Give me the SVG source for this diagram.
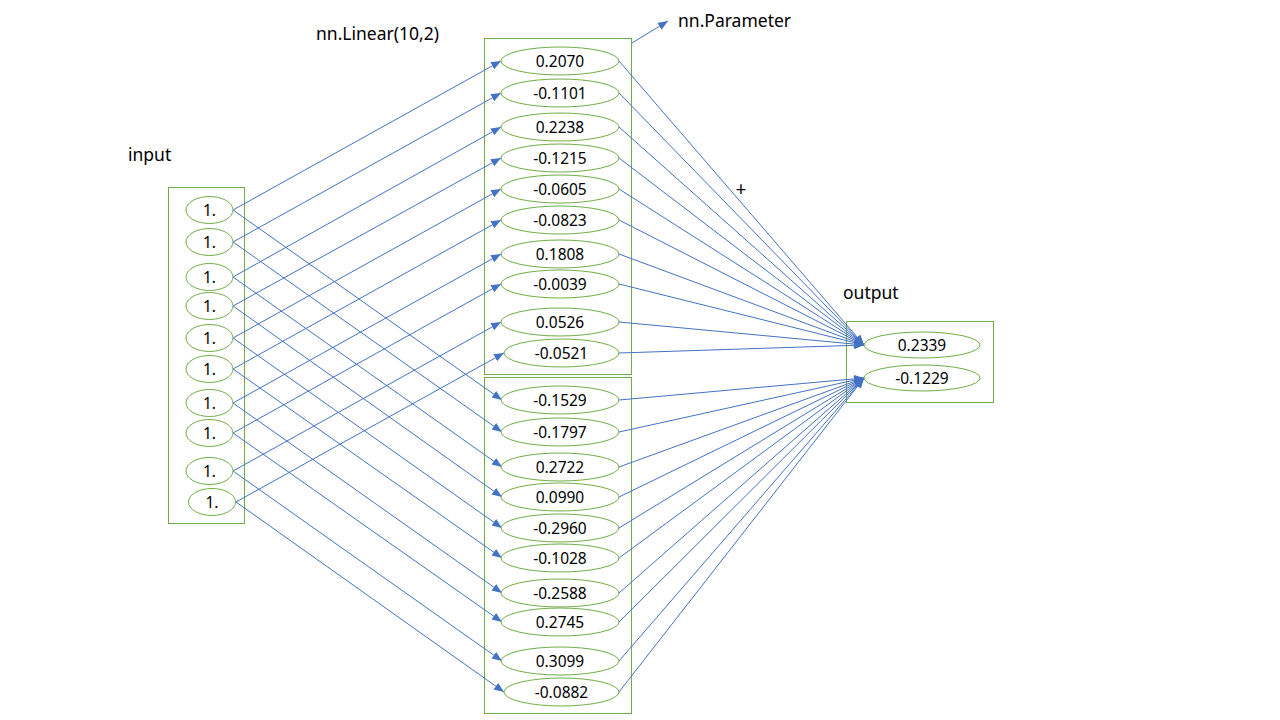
<svg xmlns="http://www.w3.org/2000/svg" width="1280" height="720" viewBox="0 0 1280 720">
<defs>
<marker id="ah" markerUnits="userSpaceOnUse" markerWidth="11" markerHeight="9" refX="10" refY="4" orient="auto">
<path d="M0,0 L10,4 L0,8 z" fill="#4472C4"/>
</marker>
<style>
.box{fill:none;stroke:#70AD47;stroke-width:1}
.el{fill:#fff;stroke:#70AD47;stroke-width:1}
.t{font-family:"Noto Sans","Liberation Sans",sans-serif;font-size:15.5px;fill:#000;text-anchor:middle;dominant-baseline:central}
.lbl{font-family:"Noto Sans","Liberation Sans",sans-serif;font-size:17.5px;fill:#000}
.c line{stroke:#4472C4;stroke-width:1;marker-end:url(#ah)}
</style>
</defs>
<rect width="1280" height="720" fill="#fff"/>

<text class="lbl" x="128" y="161">input</text>
<text class="lbl" x="316" y="40">nn.Linear(10,2)</text>
<text class="lbl" x="678" y="27">nn.Parameter</text>
<text class="lbl" x="843" y="299">output</text>
<text class="lbl" x="741" y="189" style="font-size:19px;text-anchor:middle;dominant-baseline:central">+</text>

<g id="input-box"><rect class="box" x="168.5" y="187.5" width="76" height="336"/></g>
<g id="weight-box-0"><rect class="box" x="484.5" y="38.5" width="147" height="336"/></g>
<g id="weight-box-1"><rect class="box" x="484.5" y="377.5" width="147" height="336"/></g>
<g id="output-box"><rect class="box" x="846.5" y="321.5" width="147" height="81"/></g>

<g class="c" id="connectors">
<line x1="632" y1="43" x2="668" y2="21"/>
<!-- input to weight row 0 -->
<line x1="233" y1="210" x2="501" y2="61"/>
<line x1="233" y1="242" x2="501" y2="93"/>
<line x1="233" y1="277" x2="501" y2="127"/>
<line x1="233" y1="306" x2="501" y2="158"/>
<line x1="233" y1="338" x2="501" y2="189"/>
<line x1="233" y1="369" x2="501" y2="220"/>
<line x1="233" y1="403" x2="501" y2="254"/>
<line x1="233" y1="433" x2="501" y2="284"/>
<line x1="233" y1="471" x2="501" y2="322"/>
<line x1="236" y1="502" x2="504" y2="353"/>
<!-- input to weight row 1 -->
<line x1="233" y1="210" x2="502" y2="400"/>
<line x1="233" y1="242" x2="502" y2="432"/>
<line x1="233" y1="277" x2="502" y2="467"/>
<line x1="233" y1="306" x2="502" y2="497"/>
<line x1="233" y1="338" x2="502" y2="528"/>
<line x1="233" y1="369" x2="502" y2="558"/>
<line x1="233" y1="403" x2="502" y2="593"/>
<line x1="233" y1="433" x2="502" y2="622"/>
<line x1="233" y1="471" x2="502" y2="661"/>
<line x1="236" y1="502" x2="504" y2="692"/>
<!-- weight row 0 to output 0 -->
<line x1="619" y1="61" x2="864" y2="345"/>
<line x1="619" y1="93" x2="864" y2="345"/>
<line x1="619" y1="127" x2="864" y2="345"/>
<line x1="619" y1="158" x2="864" y2="345"/>
<line x1="619" y1="189" x2="864" y2="345"/>
<line x1="619" y1="220" x2="864" y2="345"/>
<line x1="619" y1="254" x2="864" y2="345"/>
<line x1="619" y1="284" x2="864" y2="345"/>
<line x1="619" y1="322" x2="864" y2="345"/>
<line x1="619" y1="353" x2="864" y2="345"/>
<!-- weight row 1 to output 1 -->
<line x1="619" y1="400" x2="864" y2="378"/>
<line x1="619" y1="432" x2="864" y2="378"/>
<line x1="619" y1="467" x2="864" y2="378"/>
<line x1="619" y1="497" x2="864" y2="378"/>
<line x1="619" y1="528" x2="864" y2="378"/>
<line x1="619" y1="558" x2="864" y2="378"/>
<line x1="619" y1="593" x2="864" y2="378"/>
<line x1="619" y1="622" x2="864" y2="378"/>
<line x1="619" y1="661" x2="864" y2="378"/>
<line x1="619" y1="692" x2="864" y2="378"/>
</g>

<g id="in-1"><ellipse class="el" cx="209.5" cy="210" rx="23.5" ry="13.5"/><text class="t" x="209.5" y="210">1.</text></g>
<g id="in-2"><ellipse class="el" cx="209.5" cy="242" rx="23.5" ry="13.5"/><text class="t" x="209.5" y="242">1.</text></g>
<g id="in-3"><ellipse class="el" cx="209.5" cy="277" rx="23.5" ry="13.5"/><text class="t" x="209.5" y="277">1.</text></g>
<g id="in-4"><ellipse class="el" cx="209.5" cy="306" rx="23.5" ry="13.5"/><text class="t" x="209.5" y="306">1.</text></g>
<g id="in-5"><ellipse class="el" cx="209.5" cy="338" rx="23.5" ry="13.5"/><text class="t" x="209.5" y="338">1.</text></g>
<g id="in-6"><ellipse class="el" cx="209.5" cy="369" rx="23.5" ry="13.5"/><text class="t" x="209.5" y="369">1.</text></g>
<g id="in-7"><ellipse class="el" cx="209.5" cy="403" rx="23.5" ry="13.5"/><text class="t" x="209.5" y="403">1.</text></g>
<g id="in-8"><ellipse class="el" cx="209.5" cy="433" rx="23.5" ry="13.5"/><text class="t" x="209.5" y="433">1.</text></g>
<g id="in-9"><ellipse class="el" cx="209.5" cy="471" rx="23.5" ry="13.5"/><text class="t" x="209.5" y="471">1.</text></g>
<g id="in-10"><ellipse class="el" cx="212" cy="502" rx="23.5" ry="13.5"/><text class="t" x="212" y="502">1.</text></g>

<g id="w0-1"><ellipse class="el" cx="560" cy="61" rx="59" ry="14"/><text class="t" x="560" y="61">0.2070</text></g>
<g id="w0-2"><ellipse class="el" cx="560" cy="93" rx="59" ry="14"/><text class="t" x="560" y="93">-0.1101</text></g>
<g id="w0-3"><ellipse class="el" cx="560" cy="127" rx="59" ry="14"/><text class="t" x="560" y="127">0.2238</text></g>
<g id="w0-4"><ellipse class="el" cx="560" cy="158" rx="59" ry="14"/><text class="t" x="560" y="158">-0.1215</text></g>
<g id="w0-5"><ellipse class="el" cx="560" cy="189" rx="59" ry="14"/><text class="t" x="560" y="189">-0.0605</text></g>
<g id="w0-6"><ellipse class="el" cx="560" cy="220" rx="59" ry="14"/><text class="t" x="560" y="220">-0.0823</text></g>
<g id="w0-7"><ellipse class="el" cx="560" cy="254" rx="59" ry="14"/><text class="t" x="560" y="254">0.1808</text></g>
<g id="w0-8"><ellipse class="el" cx="560" cy="284" rx="59" ry="14"/><text class="t" x="560" y="284">-0.0039</text></g>
<g id="w0-9"><ellipse class="el" cx="560" cy="322" rx="59" ry="14"/><text class="t" x="560" y="322">0.0526</text></g>
<g id="w0-10"><ellipse class="el" cx="561.5" cy="353" rx="57.5" ry="14"/><text class="t" x="561.5" y="353">-0.0521</text></g>

<g id="w1-1"><ellipse class="el" cx="560" cy="400" rx="59" ry="14"/><text class="t" x="560" y="400">-0.1529</text></g>
<g id="w1-2"><ellipse class="el" cx="560" cy="432" rx="59" ry="14"/><text class="t" x="560" y="432">-0.1797</text></g>
<g id="w1-3"><ellipse class="el" cx="560" cy="467" rx="59" ry="14"/><text class="t" x="560" y="467">0.2722</text></g>
<g id="w1-4"><ellipse class="el" cx="560" cy="497" rx="59" ry="14"/><text class="t" x="560" y="497">0.0990</text></g>
<g id="w1-5"><ellipse class="el" cx="560" cy="528" rx="59" ry="14"/><text class="t" x="560" y="528">-0.2960</text></g>
<g id="w1-6"><ellipse class="el" cx="560" cy="558" rx="59" ry="14"/><text class="t" x="560" y="558">-0.1028</text></g>
<g id="w1-7"><ellipse class="el" cx="560" cy="593" rx="59" ry="14"/><text class="t" x="560" y="593">-0.2588</text></g>
<g id="w1-8"><ellipse class="el" cx="560" cy="622" rx="59" ry="14"/><text class="t" x="560" y="622">0.2745</text></g>
<g id="w1-9"><ellipse class="el" cx="560" cy="661" rx="59" ry="14"/><text class="t" x="560" y="661">0.3099</text></g>
<g id="w1-10"><ellipse class="el" cx="561.5" cy="692" rx="57.5" ry="14"/><text class="t" x="561.5" y="692">-0.0882</text></g>

<g id="out-1"><ellipse class="el" cx="922" cy="345" rx="58" ry="13"/><text class="t" x="922" y="345">0.2339</text></g>
<g id="out-2"><ellipse class="el" cx="922" cy="378" rx="58" ry="13"/><text class="t" x="922" y="378">-0.1229</text></g>
</svg>
